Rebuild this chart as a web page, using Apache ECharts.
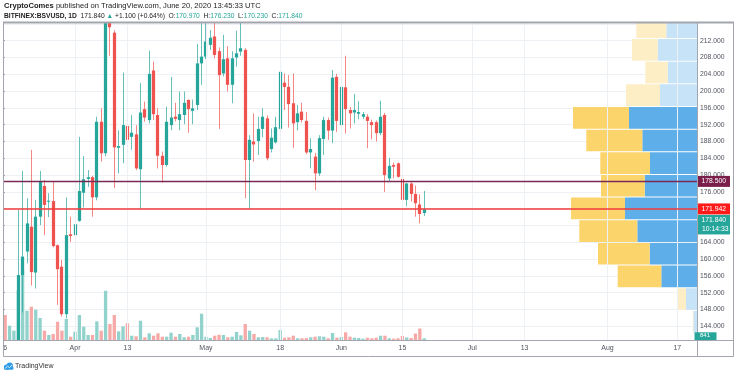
<!DOCTYPE html>
<html>
<head>
<meta charset="utf-8">
<script src="https://cdn.jsdelivr.net/npm/echarts@6/dist/echarts.min.js"></script>
<style>
  html, body { margin: 0; padding: 0; background: #fff; }
  #chart { width: 736px; height: 376px; }
</style>
</head>
<body>
<div id="chart"></div>
<script>
// BITFINEX:BSVUSD daily, Mar 16 - Jun 20 2020
const firstDay = [2020, 2, 16];
const dayCount = 159; // visible time range, out to Aug 21

const opens = [139.0, 127.0, 134.0, 136.5, 156.2, 161.8, 167.7, 156.8, 170.1, 177.4,
  173.7, 173.8, 163.3, 158.2, 146.9, 165.9, 165.7, 169.1, 175.8, 179.1,
  179.5, 174.7, 192.7, 185.2, 230.0, 213.9, 186.5, 187.2, 191.7, 189.1,
  189.7, 181.4, 195.7, 193.1, 204.9, 194.3, 184.6, 182.4, 191.9, 193.9,
  193.1, 194.3, 197.9, 195.3, 196.7, 206.6, 208.2, 211.0, 213.0, 209.5,
  204.2, 207.8, 201.5, 208.0, 209.4, 209.8, 183.6, 188.0, 188.1, 191.0,
  193.5, 186.2, 187.8, 191.0, 202.0, 201.0, 197.1, 192.6, 195.1, 192.9,
  185.4, 184.4, 180.4, 188.6, 193.1, 190.6, 203.4, 191.9, 200.9, 195.5,
  194.9, 194.6, 193.9, 193.9, 192.6, 192.6, 190.0, 194.3, 179.2, 182.4,
  182.8, 179.1, 174.1, 178.0, 175.5, 173.0, 170.97];
const highs = [140.3, 139.0, 140.2, 171.7, 181.0, 174.5, 186.0, 174.1, 181.0, 178.8,
  175.7, 178.4, 163.5, 159.8, 174.7, 170.1, 169.3, 189.1, 184.5, 181.2,
  179.8, 193.9, 195.9, 245.0, 236.0, 214.5, 190.7, 204.4, 192.3, 194.3,
  191.9, 201.9, 197.5, 209.6, 207.0, 195.9, 185.6, 196.3, 203.4, 197.2,
  199.9, 199.9, 198.0, 198.0, 211.2, 217.0, 218.0, 214.5, 217.0, 210.4,
  213.4, 210.7, 209.5, 214.4, 216.3, 210.2, 189.5, 194.7, 193.9, 195.9,
  194.2, 191.1, 193.9, 209.0, 204.2, 203.8, 204.2, 196.7, 197.2, 195.0,
  188.8, 185.3, 189.5, 193.9, 193.7, 205.0, 204.1, 202.6, 208.4, 196.2,
  199.3, 197.6, 195.0, 194.5, 193.2, 193.0, 197.7, 194.8, 184.1, 183.0,
  183.0, 179.5, 178.2, 178.3, 177.5, 175.4, 176.23];
const lows = [123.0, 125.0, 129.5, 134.0, 147.3, 159.0, 153.7, 153.0, 168.1, 165.7,
  170.0, 162.8, 149.1, 146.3, 145.9, 164.1, 158.8, 168.9, 172.3, 177.2,
  170.1, 174.0, 183.2, 184.5, 208.4, 176.9, 180.4, 182.8, 180.0, 186.0,
  181.2, 172.0, 192.7, 192.3, 193.1, 181.6, 178.2, 182.0, 190.7, 192.8,
  190.7, 192.1, 190.1, 192.1, 195.5, 201.5, 207.6, 209.8, 207.8, 191.0,
  203.5, 199.9, 197.1, 205.8, 208.4, 174.5, 172.0, 183.2, 184.8, 189.0,
  183.5, 185.4, 187.5, 190.7, 195.5, 191.3, 186.5, 190.7, 192.5, 185.0,
  181.6, 176.4, 179.8, 184.8, 188.4, 187.6, 190.3, 191.2, 189.9, 191.1,
  192.3, 193.3, 193.3, 186.4, 188.5, 188.0, 189.5, 176.0, 178.4, 179.2,
  179.4, 165.3, 172.6, 173.7, 170.1, 168.5, 170.23];
const closes = [127.0, 134.0, 136.5, 156.2, 160.6, 168.5, 156.9, 170.1, 178.4, 172.9,
  173.9, 163.1, 157.6, 146.9, 165.7, 165.5, 168.3, 176.2, 179.0, 179.5,
  174.7, 192.7, 185.2, 232.0, 215.2, 186.6, 186.9, 191.9, 188.4, 190.1,
  181.6, 194.9, 193.7, 204.1, 194.5, 184.6, 182.4, 192.7, 193.7, 193.4,
  194.5, 197.2, 195.7, 195.9, 206.6, 208.2, 211.8, 212.7, 208.6, 203.8,
  207.6, 201.5, 207.8, 209.0, 210.2, 183.6, 188.4, 187.3, 191.0, 193.9,
  184.0, 188.9, 191.4, 204.6, 201.0, 196.9, 192.3, 194.7, 193.1, 185.4,
  186.2, 180.4, 188.8, 193.1, 190.6, 203.2, 192.9, 201.0, 195.7, 194.7,
  195.5, 195.0, 194.5, 192.9, 191.9, 190.0, 193.9, 180.0, 182.2, 182.0,
  179.6, 174.1, 178.0, 175.5, 173.3, 170.74, 171.84];
const volumes = [12380, 7080, 4600, 24750, 34650, 14500, 16480, 15000, 10890, 4600,
  2480, 2970, 9060, 4600, 10400, 1630, 4110, 12380, 6580, 2480,
  2480, 9260, 4600, 24400, 7920, 12380, 4310, 6780, 8270, 2130,
  1830, 9550, 1340, 3320, 2130, 3320, 1630, 1630, 3610, 1630,
  2970, 1340, 1630, 2480, 6290, 13020, 1630, 990, 2130, 2620,
  2480, 1340, 1630, 3960, 2330, 7920, 4600, 2970, 1340, 1490,
  1340, 840, 840, 4950, 1140, 1340, 2130, 840, 840, 990,
  1340, 1630, 1830, 1630, 840, 3470, 1140, 1490, 3810, 1630,
  1140, 990, 640, 1140, 840, 1140, 2130, 2130, 840, 640,
  840, 1980, 1240, 990, 3220, 5690, 841];

const tickDates = ['2020-03-16', '2020-04-01', '2020-04-13', '2020-05-01', '2020-05-18', '2020-06-01',
  '2020-06-15', '2020-07-01', '2020-07-13', '2020-08-01', '2020-08-17'];
const tickLabels = ['6', 'Apr', '13', 'May', '18', 'Jun', '15', 'Jul', '13', 'Aug', '17'];

// visible-range volume profile, rows from the top
const profileTop = [217.78, 212.39, 207.0, 201.6, 196.21, 190.82, 185.42, 180.03, 174.64, 169.25, 163.85, 158.46, 153.07, 147.67];
const profileRow = 5.39;
const profileUp = [30.7, 39.3, 29.3, 37, 68, 54.7, 47, 52.3, 72, 59.7, 47.3, 35.7, 11, 3.7];
const profileDown = [30, 25.7, 22.4, 34, 56, 56, 49.7, 43.7, 54, 58, 51.7, 43.6, 9, 0.6];
const profileValueArea = [0, 0, 0, 0, 1, 1, 1, 1, 1, 1, 1, 1, 0, 0];

const levelLines = [178.5, 171.942];
const countdown = '10:14:33';

const dates = [];
for (let i = 0; i < dayCount; i++) {
  dates.push(new Date(Date.UTC(firstDay[0], firstDay[1], firstDay[2] + i)).toISOString().slice(0, 10));
}

const font = 'Liberation Sans, Arial, sans-serif';
const upColor = '#26a69a';
const downColor = '#ef5350';
const gridColor = '#edf0f5';
const frameColor = '#a3a6ae';
const labelColor = '#50535e';

const chart = echarts.init(document.getElementById('chart'));

chart.setOption({
  animation: false,
  textStyle: { fontFamily: font },
  grid: [
    { left: 3, right: 39, top: 23, height: 317 },
    { left: 3, right: 39, top: 23.9, height: 302.4 },
  ],
  xAxis: [
    {
      type: 'category',
      gridIndex: 0,
      data: dates,
      boundaryGap: true,
      axisLine: { show: false },
      axisTick: { show: false },
      splitLine: { show: false },
      axisLabel: {
        interval: (i, v) => tickDates.includes(v),
        formatter: (v) => tickLabels[tickDates.indexOf(v)],
        color: labelColor,
        fontSize: 7,
        margin: 5,
        hideOverlap: false,
      },
    },
    { type: 'value', gridIndex: 0, min: 0, max: 694, inverse: true, show: false },
    { type: 'value', gridIndex: 1, min: 0, max: 1, show: false },
  ],
  yAxis: [
    { type: 'value', gridIndex: 0, min: 140.74, max: 216.21, show: false },
    { type: 'value', gridIndex: 0, min: 0, max: 157000, show: false },
    {
      type: 'value',
      gridIndex: 1,
      position: 'right',
      min: 144,
      max: 216,
      interval: 4,
      axisLine: { show: false },
      axisTick: { show: true, length: 2, lineStyle: { color: frameColor } },
      axisLabel: {
        color: labelColor,
        fontSize: 6.8,
        margin: 3,
        showMaxLabel: false,
        formatter: (v) => v.toFixed(3),
      },
      splitLine: { show: true, lineStyle: { color: gridColor, width: 1 } },
    },
  ],
  series: [
    {
      // vertical grid lines at the date labels
      type: 'line',
      xAxisIndex: 0,
      yAxisIndex: 0,
      data: [],
      z: 1,
      markLine: {
        silent: true,
        symbol: 'none',
        label: { show: false },
        lineStyle: { color: gridColor, width: 1, type: 'solid' },
        data: tickDates.slice(1).map((d) => ({ xAxis: d })),
      },
    },
    {
      name: 'Volume',
      type: 'bar',
      xAxisIndex: 0,
      yAxisIndex: 1,
      barWidth: '76%',
      z: 2,
      data: volumes.map((v, i) => ({
        value: v,
        itemStyle: { color: closes[i] >= opens[i] ? '#92d2cc' : '#f7a9a7' },
      })),
    },
    {
      name: 'Volume profile',
      type: 'custom',
      xAxisIndex: 1,
      yAxisIndex: 0,
      clip: true,
      z: 3,
      data: profileTop.map((t, i) => [t, profileUp[i], profileDown[i], profileValueArea[i]]),
      renderItem(params, api) {
        const top = api.value(0);
        const up = api.value(1);
        const down = api.value(2);
        const inArea = api.value(3) === 1;
        const p0 = api.coord([0, top]);
        const p1 = api.coord([up, top - profileRow]);
        const p2 = api.coord([up + down, top - profileRow]);
        const h = p1[1] - p0[1] - 1;
        return {
          type: 'group',
          children: [
            {
              type: 'rect',
              shape: { x: p1[0], y: p0[1], width: p0[0] - p1[0], height: h },
              style: { fill: inArea ? '#5eaeea' : '#c6e3f8' },
            },
            {
              type: 'rect',
              shape: { x: p2[0], y: p0[1], width: p1[0] - p2[0], height: h },
              style: { fill: inArea ? '#fbd46c' : '#feeec6' },
            },
          ],
        };
      },
    },
    {
      name: 'BSVUSD',
      type: 'custom',
      xAxisIndex: 0,
      yAxisIndex: 0,
      clip: true,
      z: 4,
      encode: { x: 0, y: [1, 2, 3, 4] },
      data: opens.map((o, i) => [i, o, closes[i], lows[i], highs[i]]),
      renderItem(params, api) {
        const i = api.value(0);
        const o = api.value(1);
        const c = api.value(2);
        const pO = api.coord([i, o]);
        const pC = api.coord([i, c]);
        const pL = api.coord([i, api.value(3)]);
        const pH = api.coord([i, api.value(4)]);
        const w = api.size([1, 0])[0] * 0.74;
        const up = c >= o;
        const cx = Math.round(pO[0] - 0.5) + 0.5;
        const top = Math.min(pO[1], pC[1]);
        const bodyH = Math.max(Math.abs(pO[1] - pC[1]), 1);
        return {
          type: 'group',
          children: [
            {
              type: 'line',
              shape: { x1: cx, y1: pH[1], x2: cx, y2: pL[1] },
              style: { stroke: up ? upColor : downColor, lineWidth: 1, opacity: 0.7 },
            },
            {
              type: 'rect',
              shape: { x: cx - w / 2, y: top, width: w, height: bodyH },
              style: { fill: up ? upColor : downColor },
            },
          ],
        };
      },
      markLine: {
        silent: true,
        symbol: 'none',
        label: { show: false },
        data: [
          { yAxis: levelLines[0], lineStyle: { color: '#7a2a55', width: 1.3, type: 'solid' } },
          { yAxis: levelLines[1], lineStyle: { color: '#f23b3b', width: 1.6, type: 'solid' } },
        ],
      },
    },
  ],
});

// price tags on the scale, placed through the price axis
const last = opens.length - 1;
const yOf = (v) => chart.convertToPixel({ yAxisIndex: 0 }, v);
const yLevel0 = yOf(levelLines[0]);
const yLevel1 = yOf(levelLines[1]);
const yVol = chart.convertToPixel({ yAxisIndex: 1 }, volumes[last]);
const tagText = (x, y, text) => ({
  type: 'text', z: 110, x, y,
  style: { text, fill: '#fff', fontSize: 6.8, fontFamily: font, verticalAlign: 'middle' },
});
const change = closes[last] - closes[last - 1];
const hdr1 = { fontSize: 7.6, fontFamily: font, fill: '#222' };
const hdr2 = { fontSize: 6.7, fontFamily: font, fill: '#222' };

chart.setOption({
  graphic: [
    { type: 'rect', z: 100, shape: { x: 3.5, y: 22.5, width: 730, height: 334 }, style: { fill: 'none', stroke: frameColor, lineWidth: 1 } },
    { type: 'line', z: 100, shape: { x1: 3, y1: 22.5, x2: 734, y2: 22.5 }, style: { stroke: frameColor, lineWidth: 2 } },
    { type: 'line', z: 100, shape: { x1: 697.5, y1: 22.5, x2: 697.5, y2: 356.5 }, style: { stroke: frameColor, lineWidth: 1 } },
    { type: 'line', z: 100, shape: { x1: 3.5, y1: 340.5, x2: 733.5, y2: 340.5 }, style: { stroke: frameColor, lineWidth: 1 } },

    { type: 'rect', z: 105, shape: { x: 698, y: yLevel0 - 5.5, width: 32, height: 11 }, style: { fill: '#7a1f4a' } },
    tagText(701.5, yLevel0, levelLines[0].toFixed(3)),
    { type: 'rect', z: 105, shape: { x: 698, y: yLevel1 - 5.5, width: 32, height: 11 }, style: { fill: '#ff1a1a' } },
    tagText(701.5, yLevel1, levelLines[1].toFixed(3)),
    { type: 'rect', z: 105, shape: { x: 698, y: yLevel1 + 6, width: 32, height: 19.5 }, style: { fill: upColor } },
    tagText(701.5, yLevel1 + 11, closes[last].toFixed(3)),
    tagText(702, yLevel1 + 20.5, countdown),
    { type: 'rect', z: 105, shape: { x: 694.5, y: yVol - 6, width: 22, height: 340 - (yVol - 6) }, style: { fill: upColor } },
    { type: 'text', z: 110, x: 700, y: yVol - 2.5, style: { text: String(volumes[last]), fill: '#fff', fontSize: 6, fontFamily: font, verticalAlign: 'middle' } },

    {
      type: 'text', z: 110, x: 4, y: 6,
      style: {
        text: '{b|CryptoComes} published on TradingView.com, June 20, 2020 13:45:33 UTC',
        ...hdr1, verticalAlign: 'middle',
        rich: { b: { ...hdr1, fontWeight: 'bold' } },
      },
    },
    {
      type: 'text', z: 110, x: 4, y: 16.5,
      style: {
        text: '{b|BITFINEX:BSVUSD, 1D}  ' + closes[last].toFixed(3) + ' {g|\u25B2} +' + change.toFixed(3) +
          ' (+' + (change / closes[last - 1] * 100).toFixed(2) + '%)  O:{g|' + opens[last].toFixed(3) +
          '}  H:{g|' + highs[last].toFixed(3) + '}  L:{g|' + lows[last].toFixed(3) + '}  C:{g|' + closes[last].toFixed(3) + '}',
        ...hdr2, verticalAlign: 'middle',
        rich: { b: { ...hdr2, fontWeight: 'bold' }, g: { ...hdr2, fill: upColor } },
      },
    },

    { type: 'circle', z: 110, shape: { cx: 6.5, cy: 367, r: 2.6 }, style: { fill: '#2e9be6' } },
    { type: 'circle', z: 110, shape: { cx: 9.8, cy: 365.6, r: 3.1 }, style: { fill: '#2e9be6' } },
    { type: 'rect', z: 110, shape: { x: 4, y: 366.5, width: 9.5, height: 3.2, r: 1.5 }, style: { fill: '#2e9be6' } },
    { type: 'polyline', z: 111, shape: { points: [[5, 368.5], [7.5, 366.3], [9.5, 367.6], [12, 365]] }, style: { stroke: '#fff', lineWidth: 0.8, fill: 'none' } },
    { type: 'text', z: 110, x: 15, y: 366.5, style: { text: 'TradingView', fill: '#333', fontSize: 7, fontFamily: font, verticalAlign: 'middle' } },
  ],
});
</script>
</body>
</html>
